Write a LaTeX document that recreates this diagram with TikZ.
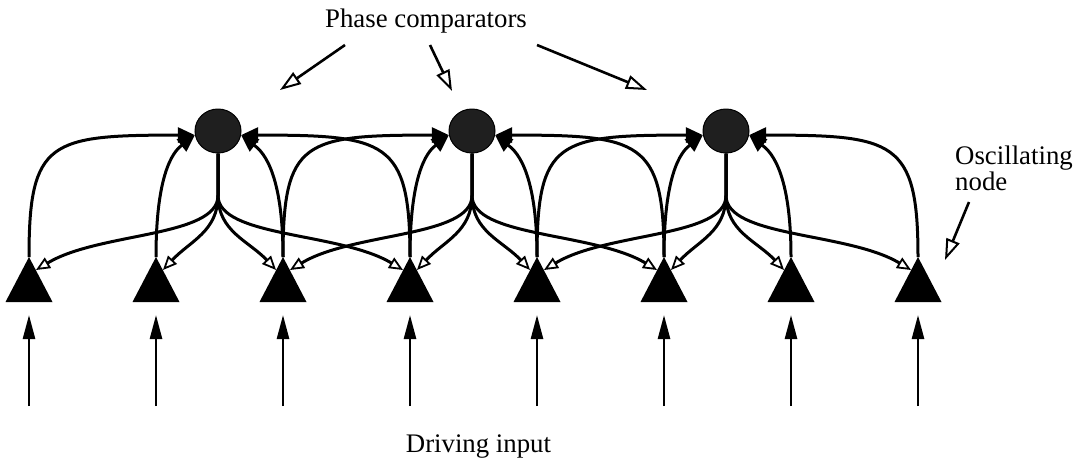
\documentclass[tikz,border=0pt]{standalone}
\usepackage{fontspec}
\setmainfont{Liberation Serif}
\usetikzlibrary{arrows.meta,shapes.geometric,calc}
\begin{document}
\begin{tikzpicture}[x=1pt,y=-1pt,
  link/.style={line width=3pt},
  tofilter/.style={link,-{Triangle[length=17pt,width=15pt]}},
  tonode/.style={link,-{Triangle[length=14pt,width=12pt,fill=white,line width=1.8pt]}},
  drive/.style={line width=2.6pt,-{Triangle[length=24pt,width=12pt]}},
  pointer/.style={line width=2.6pt,-{Triangle[length=21pt,width=14pt,fill=white,line width=2pt]}},
  comparator/.style={ellipse,draw=black,line width=1pt,fill=black!88,
    minimum width=46pt,minimum height=44pt,inner sep=0pt},
  caption/.style={font=\fontsize{26.8}{26}\selectfont,inner sep=0pt}
]
\useasboundingbox (0,0) rectangle (1087,464);

% oscillating nodes (filled triangles) with their driving inputs
\foreach \i in {1,...,8} {
  \pgfmathsetmacro\tx{29+127*(\i-1)}
  \coordinate (T\i) at (\tx,257);
  \fill (T\i) -- ++(-23.5,45) -- ++(47,0) -- cycle;
  \coordinate (D\i) at (\tx,406);
  \coordinate (E\i) at (\tx,315);
  \draw[drive] (D\i) -- (E\i);
}

% phase comparators
\foreach \k/\cx in {1/218,2/472,3/726}
  \node[comparator] (C\k) at (\cx,131) {};

% couplings: each comparator reads four neighbours and feeds them back
\foreach \k in {1,2,3} {
  \pgfmathtruncatemacro\a{2*\k-1}
  \pgfmathtruncatemacro\b{2*\k}
  \pgfmathtruncatemacro\c{2*\k+1}
  \pgfmathtruncatemacro\d{2*\k+2}
  \coordinate (S\k) at ($(C\k.south)+(0,42)$);
  % inputs to the comparator
  \draw[tofilter] (T\a) .. controls ($(T\a)+(0,-117)$) and ($(C\k.190)+(-145,0)$) .. (C\k.190);
  \draw[tofilter] (T\b) .. controls ($(T\b)+(0,-92)$) and ($(C\k.190)+(-18,14)$) .. (C\k.190);
  \draw[tofilter] (T\c) .. controls ($(T\c)+(0,-92)$) and ($(C\k.350)+(18,14)$) .. (C\k.350);
  \draw[tofilter] (T\d) .. controls ($(T\d)+(0,-117)$) and ($(C\k.350)+(145,0)$) .. (C\k.350);
  % outputs back to the oscillators: a common stem, then four branches
  \draw[tonode] (C\k.south) -- (S\k) .. controls ($(S\k)+(0,42)$) and ($(T\a)+(70,-25)$) .. ($(T\a)+(7,13)$);
  \draw[tonode] (C\k.south) -- (S\k) .. controls ($(S\k)+(0,36)$) and ($(T\b)+(34,-16)$) .. ($(T\b)+(7,13)$);
  \draw[tonode] (C\k.south) -- (S\k) .. controls ($(S\k)+(0,36)$) and ($(T\c)+(-34,-16)$) .. ($(T\c)+(-7,13)$);
  \draw[tonode] (C\k.south) -- (S\k) .. controls ($(S\k)+(0,42)$) and ($(T\d)+(-70,-25)$) .. ($(T\d)+(-7,13)$);
}

% labels
\node[caption,anchor=base] (pc) at (426,27) {Phase comparators};
\coordinate (p1s) at (345,45);  \coordinate (p1e) at (280,90);
\coordinate (p2s) at (430,45);  \coordinate (p2e) at (452,91);
\coordinate (p3s) at (537,45);  \coordinate (p3e) at (647,90);
\draw[pointer] (p1s) -- (p1e);
\draw[pointer] (p2s) -- (p2e);
\draw[pointer] (p3s) -- (p3e);

\node[caption,anchor=base west] (osc) at (955,164) {Oscillating};
\node[caption,anchor=base west] (oscb) at (955,190) {node};
\coordinate (o1s) at (969,202); \coordinate (o1e) at (945,260);
\draw[pointer] (o1s) -- (o1e);

\node[caption,anchor=base] (drv) at (478.5,452) {Driving input};
\end{tikzpicture}
\end{document}
